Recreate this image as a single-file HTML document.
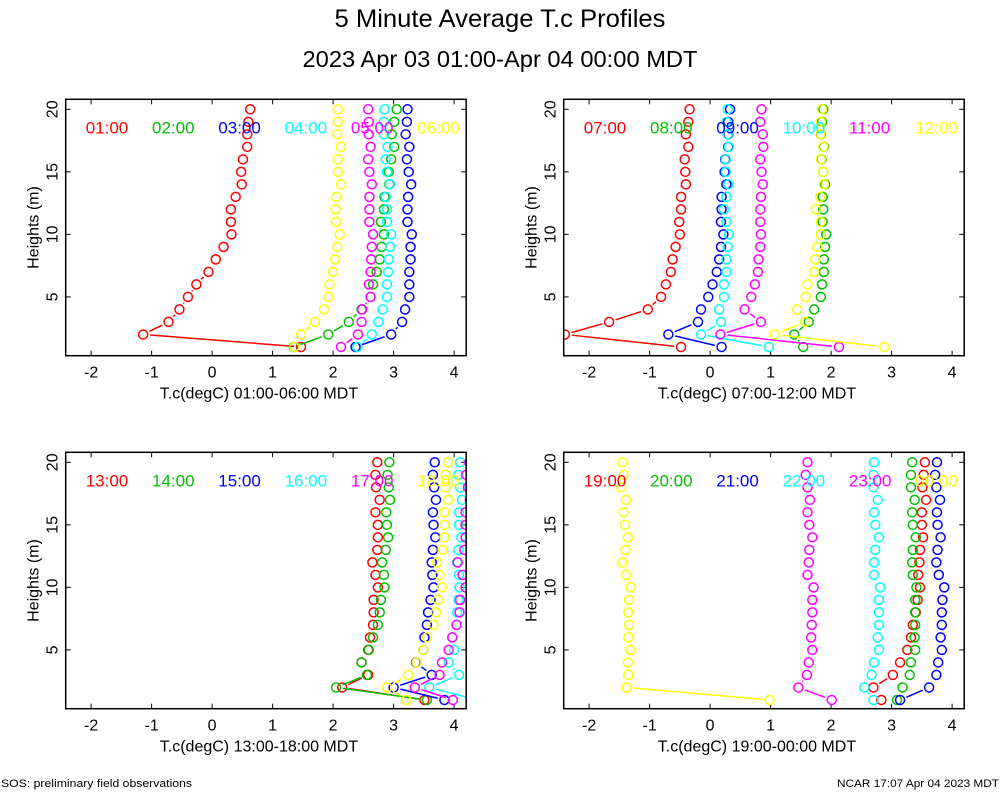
<!DOCTYPE html>
<html><head><meta charset="utf-8"><style>
body{margin:0;background:#fff;width:1000px;height:800px;overflow:hidden}
svg{display:block;font-family:"Liberation Sans",sans-serif}
</style></head><body>
<svg id="chart" width="1000" height="800" viewBox="0 0 1000 800">
<text x="500" y="27" font-size="25" text-anchor="middle" textLength="331" lengthAdjust="spacingAndGlyphs">5 Minute Average T.c Profiles</text>
<text x="500" y="67" font-size="23.5" text-anchor="middle" textLength="395" lengthAdjust="spacingAndGlyphs">2023 Apr 03 01:00-Apr 04 00:00 MDT</text>
<text x="1" y="787" font-size="11" textLength="191" lengthAdjust="spacingAndGlyphs">SOS: preliminary field observations</text>
<text x="999" y="787" font-size="11" text-anchor="end" textLength="162" lengthAdjust="spacingAndGlyphs">NCAR 17:07 Apr 04 2023 MDT</text>
</svg>
<script>
const heights=[1,2,3,4,5,6,7,8,9,10,11,12,13,14,15,16,17,18,19,20];
const xTicks=[-2,-1,0,1,2,3,4];
const yTicks=[5,10,15,20];
const colors=["#ff0000","#00c000","#0000ff","#00ffff","#ff00ff","#ffff00"];
const p1Labels=["01:00","02:00","03:00","04:00","05:00","06:00"];
const p2Labels=["07:00","08:00","09:00","10:00","11:00","12:00"];
const p3Labels=["13:00","14:00","15:00","16:00","17:00","18:00"];
const p4Labels=["19:00","20:00","21:00","22:00","23:00","00:00"];
const p1Red=[1.47,-1.14,-0.72,-0.54,-0.40,-0.26,-0.06,0.06,0.19,0.32,0.31,0.31,0.39,0.49,0.48,0.51,0.58,0.58,0.60,0.63];
const p1Green=[1.35,1.92,2.26,2.47,2.62,2.66,2.72,2.77,2.80,2.84,2.79,2.84,2.85,2.93,2.92,2.96,3.01,2.97,3.01,3.05];
const p1Blue=[2.37,2.96,3.14,3.19,3.26,3.26,3.26,3.28,3.28,3.30,3.23,3.23,3.24,3.29,3.25,3.22,3.26,3.20,3.22,3.23];
const p1Cyan=[2.40,2.64,2.75,2.82,2.89,2.89,2.91,2.92,2.94,2.96,2.89,2.89,2.87,2.94,2.89,2.87,2.90,2.84,2.84,2.85];
const p1Magenta=[2.13,2.41,2.47,2.48,2.62,2.59,2.62,2.63,2.64,2.66,2.60,2.60,2.60,2.64,2.60,2.58,2.62,2.59,2.59,2.58];
const p1Yellow=[1.36,1.47,1.70,1.85,1.92,1.94,2.00,2.03,2.07,2.11,2.05,2.04,2.05,2.13,2.08,2.08,2.13,2.07,2.08,2.08];
const p2Red=[-0.48,-2.40,-1.67,-1.03,-0.81,-0.73,-0.65,-0.62,-0.57,-0.50,-0.51,-0.48,-0.48,-0.40,-0.41,-0.42,-0.36,-0.40,-0.36,-0.34];
const p2Green=[1.54,1.39,1.63,1.72,1.83,1.85,1.88,1.88,1.90,1.92,1.86,1.87,1.86,1.90,1.87,1.84,1.88,1.83,1.85,1.87];
const p2Blue=[0.19,-0.69,-0.20,-0.15,-0.03,0.04,0.11,0.15,0.18,0.22,0.18,0.19,0.19,0.27,0.24,0.25,0.30,0.30,0.30,0.33];
const p2Cyan=[0.97,-0.15,0.18,0.15,0.23,0.23,0.27,0.27,0.29,0.31,0.27,0.23,0.27,0.30,0.26,0.26,0.31,0.29,0.27,0.29];
const p2Magenta=[2.13,0.17,0.84,0.57,0.68,0.74,0.79,0.80,0.83,0.84,0.83,0.83,0.84,0.87,0.85,0.83,0.88,0.87,0.83,0.85];
const p2Yellow=[2.88,1.07,1.57,1.44,1.58,1.61,1.72,1.74,1.77,1.83,1.83,1.75,1.82,1.88,1.87,1.83,1.87,1.82,1.83,1.85];
const p3Red=[3.51,2.15,2.58,2.47,2.58,2.61,2.66,2.67,2.67,2.74,2.70,2.65,2.73,2.74,2.74,2.70,2.77,2.71,2.70,2.73];
const p3Green=[3.55,2.05,2.56,2.47,2.59,2.66,2.74,2.77,2.79,2.85,2.84,2.81,2.87,2.91,2.89,2.88,2.94,2.92,2.90,2.93];
const p3Blue=[3.84,3.00,3.63,3.37,3.49,3.51,3.55,3.57,3.61,3.66,3.64,3.63,3.65,3.69,3.66,3.65,3.70,3.67,3.65,3.68];
const p3Cyan=[4.38,3.59,4.08,3.91,4.00,3.97,4.04,4.05,4.07,4.09,4.08,4.05,4.07,4.12,4.08,4.08,4.13,4.10,4.07,4.10];
const p3Magenta=[3.98,3.35,3.76,3.80,3.91,3.97,4.04,4.09,4.10,4.19,4.14,4.06,4.17,4.19,4.19,4.19,4.26,4.23,4.20,4.25];
const p3Yellow=[3.21,2.89,3.24,3.38,3.49,3.55,3.66,3.70,3.73,3.80,3.76,3.72,3.81,3.84,3.84,3.84,3.90,3.86,3.86,3.90];
const p4Red=[2.83,2.70,3.02,3.14,3.26,3.32,3.35,3.40,3.43,3.47,3.44,3.46,3.47,3.52,3.50,3.50,3.57,3.51,3.53,3.55];
const p4Green=[3.09,3.18,3.30,3.32,3.39,3.38,3.39,3.39,3.39,3.41,3.35,3.34,3.35,3.40,3.35,3.34,3.38,3.32,3.32,3.34];
const p4Blue=[3.14,3.62,3.74,3.77,3.83,3.81,3.83,3.83,3.84,3.87,3.78,3.74,3.76,3.81,3.76,3.75,3.80,3.74,3.72,3.75];
const p4Cyan=[2.70,2.55,2.67,2.71,2.79,2.77,2.79,2.79,2.79,2.81,2.71,2.71,2.73,2.79,2.73,2.71,2.77,2.70,2.70,2.71];
const p4Magenta=[2.01,1.46,1.60,1.63,1.69,1.67,1.68,1.69,1.69,1.71,1.61,1.63,1.64,1.69,1.64,1.61,1.65,1.61,1.58,1.61];
const p4Yellow=[0.98,-1.38,-1.35,-1.36,-1.32,-1.35,-1.34,-1.35,-1.34,-1.31,-1.39,-1.45,-1.40,-1.36,-1.41,-1.43,-1.39,-1.47,-1.43,-1.45];

const NS="http://www.w3.org/2000/svg";
const svg=document.getElementById('chart');
const XMIN=-2.42,XMAX=4.2,YMIN=0.3,YMAX=20.8;
function mk(tag,attrs,parent){const e=document.createElementNS(NS,tag);for(const k in attrs)e.setAttribute(k,attrs[k]);(parent||svg).appendChild(e);return e;}

const panels=[
 {ox:0,oy:0,labels:p1Labels,series:[p1Red,p1Green,p1Blue,p1Cyan,p1Magenta,p1Yellow],xlab:"T.c(degC) 01:00-06:00 MDT"},
 {ox:498,oy:0,labels:p2Labels,series:[p2Red,p2Green,p2Blue,p2Cyan,p2Magenta,p2Yellow],xlab:"T.c(degC) 07:00-12:00 MDT"},
 {ox:0,oy:353,labels:p3Labels,series:[p3Red,p3Green,p3Blue,p3Cyan,p3Magenta,p3Yellow],xlab:"T.c(degC) 13:00-18:00 MDT"},
 {ox:498,oy:353,labels:p4Labels,series:[p4Red,p4Green,p4Blue,p4Cyan,p4Magenta,p4Yellow],xlab:"T.c(degC) 19:00-00:00 MDT"}
];
panels.forEach((p,pi)=>{
 const L=65.7+p.ox,T=99.3+p.oy,W=400.5,H=256.4;
 const xs=v=>L+(v-XMIN)/(XMAX-XMIN)*W;
 const ys=h=>T+H-(h-YMIN)/(YMAX-YMIN)*H;
 const g=mk('g',{});
 
 
 const cid='clip'+pi;
 const cp=mk('clipPath',{id:cid},g);mk('rect',{x:L,y:T,width:W,height:H},cp);
 xTicks.forEach(t=>{
  const x=xs(t);
  mk('line',{x1:x,y1:T+H,x2:x,y2:T+H-5,stroke:'#000','stroke-width':1},g);
  mk('line',{x1:x,y1:T,x2:x,y2:T+5,stroke:'#000','stroke-width':1},g);
  const tx=mk('text',{x:x,y:T+H+22,'font-size':16,'text-anchor':'middle'},g);
  
  
  tx.textContent=t;
 });
 yTicks.forEach(t=>{
  const y=ys(t);
  mk('line',{x1:L,y1:y,x2:L+5,y2:y,stroke:'#000','stroke-width':1},g);
  mk('line',{x1:L+W,y1:y,x2:L+W-5,y2:y,stroke:'#000','stroke-width':1},g);
  const tx=mk('text',{x:0,y:0,'font-size':16,'text-anchor':'middle',transform:`translate(${L-8},${y}) rotate(-90)`},g);
  
  
  tx.textContent=t;
 });
 const yl=mk('text',{x:0,y:0,'font-size':16,'text-anchor':'middle',transform:`translate(${L-27},${T+H/2}) rotate(-90)`},g);
 
 
 yl.textContent='Heights (m)';
 const xl=mk('text',{x:L+W/2-7,y:T+H+43,'font-size':16,'text-anchor':'middle'},g);
 
 
 xl.textContent=p.xlab;
 const pg=mk('g',{'clip-path':`url(#${cid})`},g);
 p.series.forEach((vals,si)=>{
  const c=colors[si];
  const sg=mk('g',{},pg);
  
  
  for(let i=0;i<vals.length-1;i++){
   const x1=xs(vals[i]),y1=ys(heights[i]),x2=xs(vals[i+1]),y2=ys(heights[i+1]);
   const d=Math.hypot(x2-x1,y2-y1),gap=7;
   if(d>2*gap+1){const ux=(x2-x1)/d,uy=(y2-y1)/d;
    mk('line',{x1:x1+ux*gap,y1:y1+uy*gap,x2:x2-ux*gap,y2:y2-uy*gap,stroke:c,'stroke-width':1.5},sg);}
  }
  vals.forEach((v,i)=>{
   const ci=mk('circle',{cx:xs(v),cy:ys(heights[i]),r:4.5,fill:'none',stroke:c,'stroke-width':1.5},sg);
   
   
  });
 });
 p.labels.forEach((lab,si)=>{
  const t=mk('text',{x:L+20+si*66.3,y:T+34,'font-size':17,fill:colors[si]},g);
  
  
  t.textContent=lab;
 });
 const fr=mk('rect',{x:L,y:T,width:W,height:H,fill:'none',stroke:'#000','stroke-width':1.5},g);
 
 
});
</script>
</body></html>
